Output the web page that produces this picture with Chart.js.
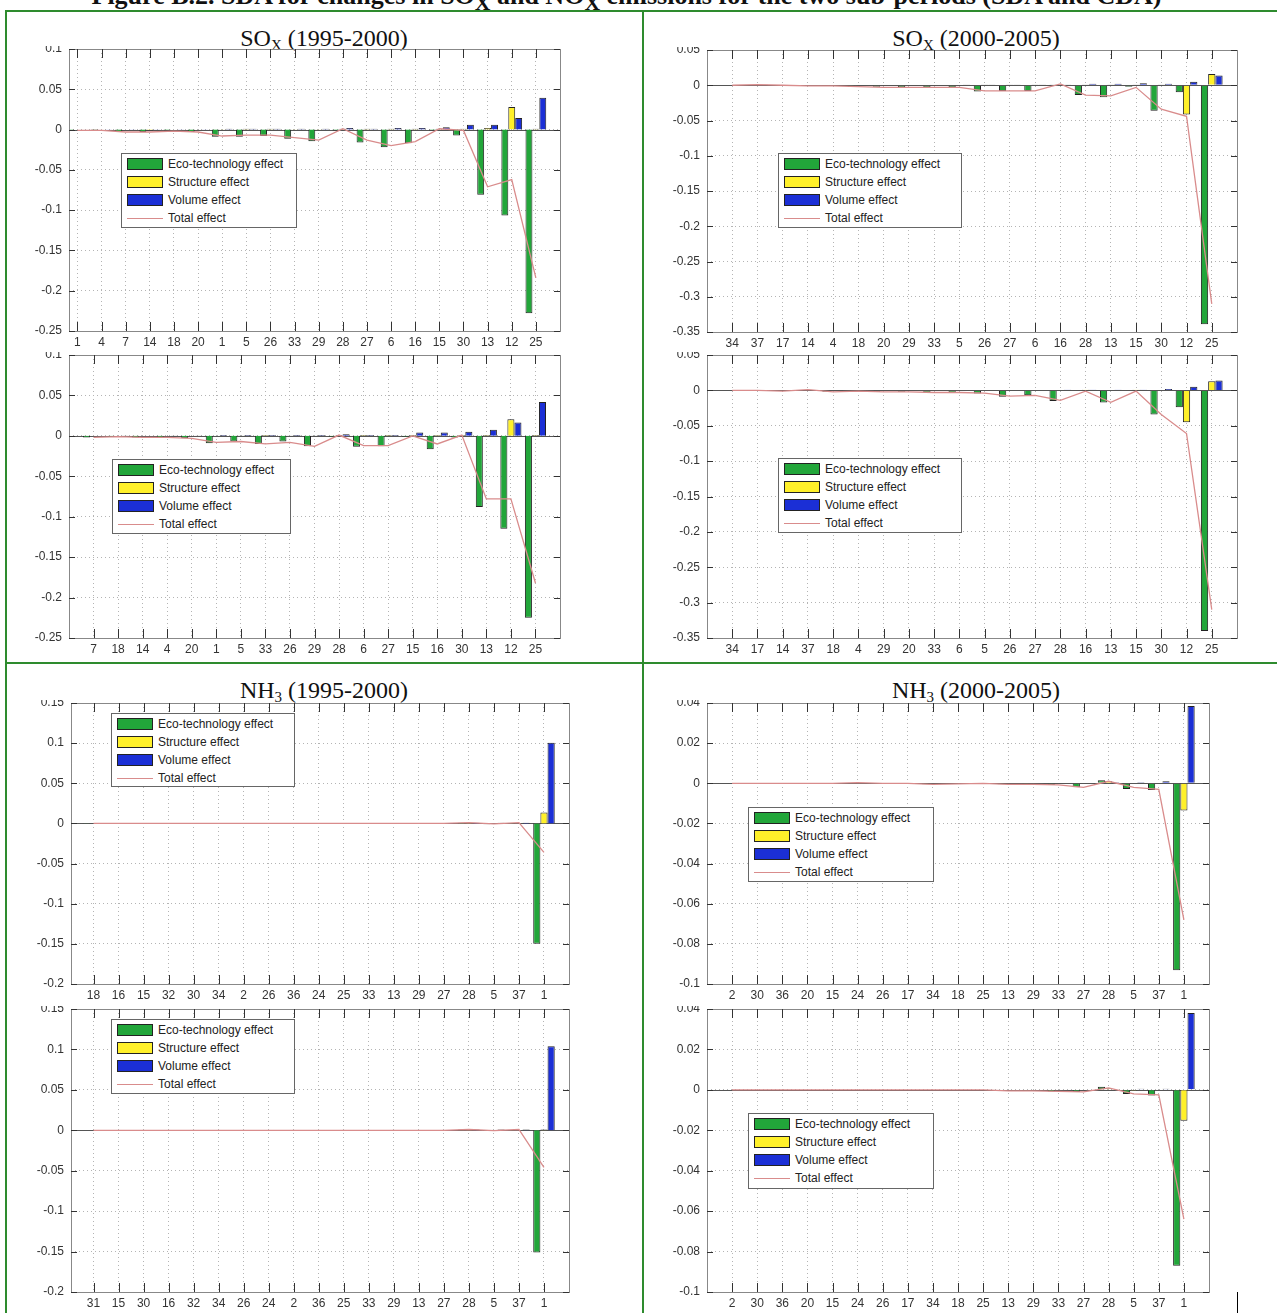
<!DOCTYPE html>
<html>
<head>
<meta charset="utf-8">
<script src="https://cdn.jsdelivr.net/npm/chart.js@4"></script>
<style>
body{margin:0;background:#fff;width:1277px;height:1313px;position:relative;overflow:hidden;font-family:"Liberation Sans",Arial,sans-serif}
canvas{position:absolute}
.gl{position:absolute;background:#2e8b2e}
.head{position:absolute;left:0;width:1253px;top:-17px;text-align:center;font-family:"Liberation Serif",serif;font-weight:bold;font-size:26px;line-height:26px;color:#111;white-space:nowrap}
.title{position:absolute;font-family:"Liberation Serif","Times New Roman",serif;font-size:24px;line-height:26px;color:#111;white-space:nowrap;transform:translateX(-50%)}
.title sub{font-size:15px;vertical-align:-4px}
.legend{position:absolute;border:1px solid #666;background:#fff;font-size:12px;color:#222;box-sizing:border-box;padding:1px 5px}
.legend div{height:18px;display:flex;align-items:center;white-space:nowrap}
.sw{width:36px;height:12px;border:1px solid #222;box-sizing:border-box;margin-right:5px}
.ln{width:36px;height:0;border-top:1.5px solid #d98c8c;margin-right:5px}
</style>
</head>
<body>
<div class="head">Figure B.2. SDA for changes in SO<sub>X</sub> and NO<sub>X</sub> emissions for the two sub-periods (SDA and CDA)</div>
<div class="gl" style="left:5px;top:10px;width:1272px;height:2px"></div>
<div class="gl" style="left:5px;top:10px;width:2px;height:1303px"></div>
<div class="gl" style="left:642px;top:10px;width:2px;height:1303px"></div>
<div class="gl" style="left:5px;top:662px;width:1272px;height:2px"></div>
<div style="position:absolute;left:1237px;top:1292px;width:1px;height:21px;background:#000"></div>

<div class="title" style="left:324px;top:25px">SO<sub>X</sub> (1995-2000)</div>
<div class="title" style="left:976px;top:25px">SO<sub>X</sub> (2000-2005)</div>
<div class="title" style="left:324px;top:677px">NH<sub>3</sub> (1995-2000)</div>
<div class="title" style="left:976px;top:677px">NH<sub>3</sub> (2000-2005)</div>

<script>
const seriesNames = ["Eco-technology effect", "Structure effect", "Volume effect", "Total effect"];

// SOx 1995-2000 (upper)
const labels1 = ["1","4","7","14","18","20","1","5","26","33","29","28","27","6","16","15","30","13","12","25"];
const eco1 = [-0.001,-0.0005,-0.003,-0.003,-0.001,-0.003,-0.009,-0.009,-0.008,-0.0115,-0.0145,-0.001,-0.016,-0.022,-0.017,-0.001,-0.0075,-0.081,-0.1065,-0.228];
const str1 = [0,0,0,-0.001,0,0,0.0005,0.001,0.001,0.0005,0.0005,0.001,0.001,0.001,0.001,0.001,0.001,0.002,0.028,0.001];
const vol1 = [0,0.0005,0.0005,0.0005,0.0005,0.0005,0.001,0.001,0.001,0.001,0.001,0.002,0.001,0.002,0.002,0.003,0.006,0.006,0.0145,0.0395];
const tot1 = [-0.001,-0.001,-0.003,-0.003,-0.002,-0.003,-0.008,-0.007,-0.007,-0.01,-0.013,0.001,-0.013,-0.02,-0.015,0.001,-0.001,-0.071,-0.062,-0.184];

// SOx 1995-2000 (lower)
const labels2 = ["7","18","14","4","20","1","5","33","26","29","28","6","27","15","16","30","13","12","25"];
const eco2 = [-0.002,-0.001,-0.002,-0.002,-0.003,-0.009,-0.007,-0.01,-0.007,-0.013,-0.001,-0.0135,-0.013,-0.001,-0.0165,-0.002,-0.088,-0.115,-0.225];
const str2 = [0,0,0,0,0,0,0.0005,0.001,0.0005,0.0005,0.001,0.001,0.001,0.001,0.001,0.001,0.001,0.0205,0.001];
const vol2 = [0,0.0005,0,0.0005,0.0005,0.001,0.001,0.001,0.001,0.001,0.002,0.001,0.001,0.004,0.004,0.005,0.0075,0.0165,0.042];
const tot2 = [-0.002,-0.001,-0.002,-0.002,-0.003,-0.008,-0.007,-0.01,-0.008,-0.013,0.001,-0.012,-0.012,0,-0.01,0.001,-0.078,-0.078,-0.182];

// SOx 2000-2005 (upper)
const labels3 = ["34","37","17","14","4","18","20","29","33","5","26","27","6","16","28","13","15","30","12","25"];
const eco3 = [0,0,0,-0.001,-0.001,-0.002,-0.002,-0.003,-0.003,-0.003,-0.009,-0.008,-0.008,0.001,-0.014,-0.017,-0.002,-0.036,-0.01,-0.339];
const str3 = [0,0.001,0,0,0,0,0,0,0,0,0.001,0.001,0.001,0.001,0.0005,0.001,0.001,0.0005,-0.0415,0.016];
const vol3 = [0,0.001,0,0,0,0,0,0,0,0.0005,0.0005,0.0005,0.0005,0.001,0.002,0.002,0.003,0.002,0.005,0.014];
const tot3 = [0,0.001,0,-0.001,-0.001,-0.002,-0.003,-0.003,-0.003,-0.003,-0.008,-0.008,-0.008,0.002,-0.014,-0.015,-0.003,-0.034,-0.044,-0.31];

// SOx 2000-2005 (lower)
const labels4 = ["34","17","14","37","18","4","29","20","33","6","5","26","27","28","16","13","15","30","12","25"];
const eco4 = [0,0,-0.001,0.0005,-0.002,-0.001,-0.002,-0.002,-0.003,-0.0035,-0.0045,-0.009,-0.007,-0.015,-0.001,-0.017,-0.001,-0.034,-0.024,-0.34];
const str4 = [0,0,0,0.001,0,0,0,0,0,0,0,0,0,0,0.001,0.0005,0.001,0.0005,-0.045,0.013];
const vol4 = [0,0,0,0,0,0,0,0,0,0,0,0.0005,0.0005,0.001,0.001,0.001,0.001,0.002,0.005,0.014];
const tot4 = [0,0,-0.001,0.001,-0.002,-0.001,-0.002,-0.002,-0.003,-0.003,-0.004,-0.008,-0.007,-0.014,-0.001,-0.017,-0.001,-0.034,-0.061,-0.31];

// NH3 1995-2000 (upper)
const labels5 = ["18","16","15","32","30","34","2","26","36","24","25","33","13","29","27","28","5","37","1"];
const eco5 = [-0.0005,0,0,0,0,0,0,0,0,0,0,-0.0005,0,0,-0.0005,0.001,-0.001,0.0005,-0.15];
const str5 = [0,0,0,0,0,0,0,0,0,0,0,0,0,0,0,0.0005,0,0,0.0135];
const vol5 = [0.0005,0,0,0,0,0,0,0,0,0,0,0.0005,0,0,0.0005,0.001,0.001,0.001,0.1005];
const tot5 = [0,0,0,0,0,0,0,0,0,0,0,0,0,0,0,0.001,-0.0005,0.001,-0.036];

// NH3 2000-2005 (upper)
const labels6 = ["2","30","36","20","15","24","26","17","34","18","25","13","29","33","27","28","5","37","1"];
const eco6 = [0,0,0,0,0,0.0003,0,0,-0.0005,-0.0003,0,-0.0005,-0.0005,-0.0008,-0.002,0.0015,-0.0028,-0.0033,-0.0932];
const str6 = [0,0,0,0,0,0,0,0,0,0,0,0,0,0,0,0.001,0,0,-0.0136];
const vol6 = [0,0,0,0,0,0,0,0,0,0,0,0,0,0,0,0.0005,0.0005,0.001,0.0385];
const tot6 = [0,0,0,0,0,0.0003,0,0,-0.0005,-0.0003,0,-0.0005,-0.0005,-0.0008,-0.002,0.001,-0.002,-0.003,-0.068];

// NH3 1995-2000 (lower)
const labels7 = ["31","15","30","16","32","34","26","24","2","36","25","33","29","13","27","28","5","37","1"];
const eco7 = [0,0,0,0,0,0,0,0,0,0,0,-0.0005,0,0,-0.0005,0.001,-0.001,0.0005,-0.151];
const str7 = [0,0,0,0,0,0,0,0,0,0,0,0,0,0,0,0.0005,0,0,0.001];
const vol7 = [0,0,0,0,0,0,0,0,0,0,0,0.0005,0,0,0.0005,0.001,0.001,0.001,0.104];
const tot7 = [0,0,0,0,0,0,0,0,0,0,0,0,0,0,0,0.001,-0.0005,0.001,-0.046];

// NH3 2000-2005 (lower)
const labels8 = ["2","30","36","20","15","24","26","17","34","18","25","13","29","33","27","28","5","37","1"];
const eco8 = [0,0,0,0,0,0,0,0,0,0,0,-0.0005,-0.0005,-0.0008,-0.001,0.0015,-0.002,-0.0028,-0.087];
const str8 = [0,0,0,0,0,0,0,0,0,0,0,0,0,0,0,0.0008,-0.0005,0,-0.0153];
const vol8 = [0,0,0,0,0,0,0,0,0,0,0,0,0,0,0,0.0003,0.0005,0.0005,0.038];
const tot8 = [0,0,0,0,0,0,0,0,0,0,0,-0.0005,-0.0005,-0.0008,-0.001,0.001,-0.002,-0.0025,-0.064];

// y axis [min, max, step]
const ySOx1 = [-0.25, 0.1, 0.05];
const ySOx2 = [-0.35, 0.05, 0.05];
const yNH1 = [-0.2, 0.15, 0.05];
const yNH2 = [-0.1, 0.04, 0.02];

const colors = ["#22a63a", "#fff02a", "#1b2fd6"];
const lineColor = "#d98c8c";

// inward tick marks, box and zero baseline, like the matlab axes
const frame = {
  id: "frame",
  beforeDatasetsDraw(chart) {
    const {ctx, chartArea: a, scales: {y}} = chart;
    const y0 = Math.round(y.getPixelForValue(0)) + 0.5;
    ctx.save();
    ctx.strokeStyle = "#555";
    ctx.lineWidth = 1;
    ctx.beginPath();
    ctx.moveTo(a.left, y0);
    ctx.lineTo(a.right, y0);
    ctx.stroke();
    ctx.restore();
  },
  afterDraw(chart) {
    const {ctx, chartArea: a, scales: {x, y}} = chart;
    ctx.save();
    ctx.strokeStyle = "#888";
    ctx.lineWidth = 1;
    ctx.strokeRect(Math.round(a.left) + 0.5, Math.round(a.top) + 0.5, Math.round(a.right - a.left), Math.round(a.bottom - a.top));
    ctx.strokeStyle = "#333";
    ctx.beginPath();
    x.ticks.forEach(t => {
      const px = Math.round(x.getPixelForValue(t.value)) + 0.5;
      ctx.moveTo(px, a.top); ctx.lineTo(px, a.top + 9);
      ctx.moveTo(px, a.bottom); ctx.lineTo(px, a.bottom - 9);
    });
    y.ticks.forEach(t => {
      const py = Math.round(y.getPixelForValue(t.value)) + 0.5;
      ctx.moveTo(a.left, py); ctx.lineTo(a.left + 6, py);
      ctx.moveTo(a.right, py); ctx.lineTo(a.right - 6, py);
    });
    ctx.stroke();
    ctx.restore();
  }
};

function points(vals) {
  return vals.map((v, i) => ({x: i + 1, y: v}));
}

function drawPanel(box, xr, yr, labels, eco, str, vol, tot, leg) {
  const padL = 48, padT = 3, padR = 8, padB = 26;
  const cv = document.createElement("canvas");
  const w = box[2] - box[0] + padL + padR;
  const h = box[3] - box[1] + padT + padB;
  cv.width = w; cv.height = h;
  cv.style.left = (box[0] - padL) + "px";
  cv.style.top = (box[1] - padT) + "px";
  document.body.appendChild(cv);

  const bar = (name, vals, c) => ({
    type: "bar", label: name, data: points(vals), backgroundColor: c,
    borderColor: "#222", borderWidth: 1, order: 1,
    categoryPercentage: 0.86, barPercentage: 1
  });

  new Chart(cv, {
    data: {
      datasets: [
        {type: "line", label: seriesNames[3], data: points(tot), borderColor: lineColor,
         borderWidth: 1.3, pointRadius: 0, tension: 0, order: 0},
        bar(seriesNames[0], eco, colors[0]),
        bar(seriesNames[1], str, colors[1]),
        bar(seriesNames[2], vol, colors[2])
      ]
    },
    options: {
      responsive: false,
      animation: false,
      devicePixelRatio: 1,
      layout: {padding: {left: 4, top: padT, right: padR, bottom: 4}},
      plugins: {legend: {display: false}, tooltip: {enabled: false}},
      scales: {
        x: {
          type: "linear", min: xr[0], max: xr[1], offset: false,
          afterBuildTicks: s => { s.ticks = labels.map((_, i) => ({value: i + 1})); },
          afterFit: s => { s.height = 22; s.paddingLeft = 0; s.paddingRight = 0; },
          ticks: {callback: v => labels[v - 1] ?? "", color: "#333", font: {family: "Liberation Sans", size: 12}, padding: 4, maxRotation: 0, autoSkip: false},
          grid: {offset: false, color: "#b4b4b4", drawTicks: false, lineWidth: 1},
          border: {display: false, dash: [1, 3]}
        },
        y: {
          min: yr[0], max: yr[1],
          afterFit: s => { s.width = 44; s.paddingTop = 0; s.paddingBottom = 0; },
          ticks: {stepSize: yr[2], callback: v => String(Math.round(v * 100) / 100), color: "#333",
                  font: {family: "Liberation Sans", size: 12}, padding: 7},
          grid: {color: "#b4b4b4", drawTicks: false, lineWidth: 1},
          border: {display: false, dash: [1, 3]}
        }
      }
    },
    plugins: [frame]
  });

  const lg = document.createElement("div");
  lg.className = "legend";
  lg.style.left = leg[0] + "px"; lg.style.top = leg[1] + "px";
  lg.style.width = leg[2] + "px"; lg.style.height = leg[3] + "px";
  lg.innerHTML = seriesNames.map((n, i) =>
    i < 3 ? `<div><span class="sw" style="background:${colors[i]}"></span>${n}</div>`
          : `<div><span class="ln"></span>${n}</div>`).join("");
  document.body.appendChild(lg);
}

drawPanel([69, 49, 560, 331], [0.65, 21], ySOx1, labels1, eco1, str1, vol1, tot1, [121, 153, 176, 75]);
drawPanel([69, 355, 560, 638], [0, 20], ySOx1, labels2, eco2, str2, vol2, tot2, [112, 459, 179, 75]);
drawPanel([707, 50, 1237, 332], [0, 21], ySOx2, labels3, eco3, str3, vol3, tot3, [778, 153, 184, 75]);
drawPanel([707, 355, 1237, 638], [0, 21], ySOx2, labels4, eco4, str4, vol4, tot4, [778, 458, 184, 75]);
drawPanel([71, 703, 569, 984], [0.1, 20], yNH1, labels5, eco5, str5, vol5, tot5, [111, 713, 184, 74]);
drawPanel([707, 703, 1209, 984], [0, 20], yNH2, labels6, eco6, str6, vol6, tot6, [748, 807, 186, 75]);
drawPanel([71, 1009, 569, 1292], [0.1, 20], yNH1, labels7, eco7, str7, vol7, tot7, [111, 1019, 184, 75]);
drawPanel([707, 1009, 1209, 1292], [0, 20], yNH2, labels8, eco8, str8, vol8, tot8, [748, 1113, 186, 76]);
</script>
</body>
</html>
